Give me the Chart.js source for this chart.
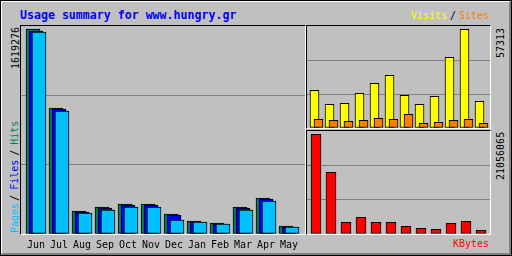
<!DOCTYPE html>
<html><head><meta charset="utf-8">
<script src="https://cdn.jsdelivr.net/npm/chart.js@4.4.1/dist/chart.umd.min.js"></script>
<style>
html,body{margin:0;padding:0;background:#c0c0c0;}
#frame{position:absolute;left:0;top:0;width:512px;height:256px;box-sizing:border-box;border:1px solid #000;background:#c0c0c0;}
#bevel{position:absolute;left:1px;top:1px;width:510px;height:254px;box-sizing:border-box;border-top:1px solid #fff;border-left:1px solid #fff;border-right:2px solid #808080;border-bottom:2px solid #808080;}
.box{position:absolute;box-sizing:border-box;border-top:1px solid #000;border-left:1px solid #000;border-right:1px solid #fff;border-bottom:1px solid #fff;}
.t{position:absolute;font-family:"DejaVu Sans Mono",monospace;font-size:10px;line-height:12px;white-space:pre;color:#000;}
.rot{transform-origin:0 0;transform:rotate(-90deg);}
canvas{position:absolute;}
</style></head>
<body>
<div id="frame"></div>
<div id="bevel"></div>
<div class="box" style="left:20px;top:25px;width:286px;height:210px;"></div>
<div class="box" style="left:306px;top:25px;width:185px;height:104px;"></div>
<div class="box" style="left:306px;top:130px;width:185px;height:105px;"></div>

<div class="t" style="left:20px;top:9px;font-weight:bold;font-size:11.6px;line-height:13px;color:#0000ff;">Usage summary for www.hungry.gr</div>
<div class="t rot" style="left:10px;top:69px;">1619276</div>
<div class="t rot" style="left:9px;top:233px;"><span style="color:#00c0ff">Pages</span><span style="margin-left:2px">/</span><span style="margin-left:5px;color:#0000ff">Files</span><span style="margin-left:4px">/</span><span style="margin-left:5px;color:#00805c">Hits</span></div>
<div class="t rot" style="left:495px;top:58px;">57313</div>
<div class="t rot" style="left:495px;top:180px;">21056065</div>
<div class="t" style="left:411px;top:10px;color:#ffff00;">Visits</div>
<div class="t" style="left:450px;top:10px;">/</div>
<div class="t" style="left:459px;top:10px;color:#ff8000;">Sites</div>
<div class="t" style="left:453px;top:238px;color:#ff0000;">KBytes</div>

<canvas id="main" width="284" height="230" style="left:21px;top:26px;"></canvas>
<canvas id="vs" width="183" height="102" style="left:307px;top:26px;"></canvas>
<canvas id="kb" width="183" height="103" style="left:307px;top:131px;"></canvas>

<script>
const months = ['Jun','Jul','Aug','Sep','Oct','Nov','Dec','Jan','Feb','Mar','Apr','May'];
const hits   = [1619276, 995300, 181700, 213300, 237000, 237000, 158000, 102700, 86900, 213300, 284400, 63200];
const files  = [1603500, 987400, 173800, 205400, 229100, 229100, 150100, 94800, 79000, 205400, 276500, 55300];
const pages  = [1595600, 971600, 165900, 189600, 213300, 213300, 110600, 94800, 79000, 189600, 260700, 55300];
const visits = [21880, 13760, 14340, 20140, 25940, 30590, 18980, 13760, 18400, 41030, 57313, 15500];
const sites  = [5050, 4470, 3890, 4470, 5630, 5050, 7950, 2730, 3310, 4470, 5050, 2730];
const kbytes = [21056065, 13030000, 2471000, 3527000, 2471000, 2471000, 1626000, 1204000, 993000, 2260000, 2682000, 781000];

const shiftPlugin = {
  id: 'shift',
  beforeDatasetDraw(chart, args) {
    const dx = chart.data.datasets[args.index].shift || 0;
    chart.ctx.save();
    chart.ctx.translate(dx, 0);
  },
  afterDatasetDraw(chart) { chart.ctx.restore(); }
};

function pts(arr) { return arr.map((v, i) => ({x: i, y: v})); }

function yScale(max) {
  return {
    min: 0, max: max, display: true,
    border: {display: false},
    ticks: {display: false},
    grid: {drawTicks: false, lineWidth: 1,
      color: c => (c.index === 1 || c.index === 2) ? '#808080' : 'rgba(0,0,0,0)'},
    afterBuildTicks: s => { s.ticks = [0, 1, 2, 3].map(k => ({value: max * k / 3})); }
  };
}

const barBase = {borderColor: '#000', borderWidth: 1, borderSkipped: false, grouped: false};
const common = {
  responsive: false, animation: false, devicePixelRatio: 1,
  layout: {padding: 0},
  plugins: {legend: {display: false}, tooltip: {enabled: false}}
};

new Chart(document.getElementById('main'), {
  type: 'bar',
  data: {datasets: [
    Object.assign({label: 'Hits',  data: pts(hits),  backgroundColor: '#00805c', order: 3, shift: -3, barThickness: 14}, barBase),
    Object.assign({label: 'Files', data: pts(files), backgroundColor: '#0000ff', order: 2, shift: 0,  barThickness: 14}, barBase),
    Object.assign({label: 'Pages', data: pts(pages), backgroundColor: '#00c0ff', order: 1, shift: 3,  barThickness: 14}, barBase)
  ]},
  options: Object.assign({}, common, {
    scales: {
      x: {type: 'linear', min: -15/23, max: -15/23 + 284/23, offset: false,
        grid: {display: false, drawTicks: false}, border: {display: false},
        ticks: {autoSkip: false, maxRotation: 0, minRotation: 0, padding: 5, color: '#000',
          font: {family: 'DejaVu Sans Mono', size: 10}, callback: v => months[v]},
        afterBuildTicks: s => { s.ticks = months.map((m, i) => ({value: i})); },
        afterFit: s => { s.height = 22; }},
      y: yScale(1643000)
    }
  }),
  plugins: [shiftPlugin]
});

new Chart(document.getElementById('vs'), {
  type: 'bar',
  data: {datasets: [
    Object.assign({label: 'Visits', data: pts(visits), backgroundColor: '#ffff00', order: 2, shift: -2, barThickness: 9}, barBase),
    Object.assign({label: 'Sites',  data: pts(sites),  backgroundColor: '#ff8000', order: 1, shift: 2,  barThickness: 9}, barBase)
  ]},
  options: Object.assign({}, common, {
    scales: {
      x: {type: 'linear', display: false, offset: false, min: -9.5/15, max: -9.5/15 + 183/15},
      y: yScale(59200)
    }
  }),
  plugins: [shiftPlugin]
});

new Chart(document.getElementById('kb'), {
  type: 'bar',
  data: {datasets: [
    Object.assign({label: 'KBytes', data: pts(kbytes), backgroundColor: '#ff0000', barThickness: 10}, barBase)
  ]},
  options: Object.assign({}, common, {
    scales: {
      x: {type: 'linear', display: false, offset: false, min: -0.6, max: -0.6 + 183/15},
      y: yScale(21753000)
    }
  })
});
</script>
</body></html>
